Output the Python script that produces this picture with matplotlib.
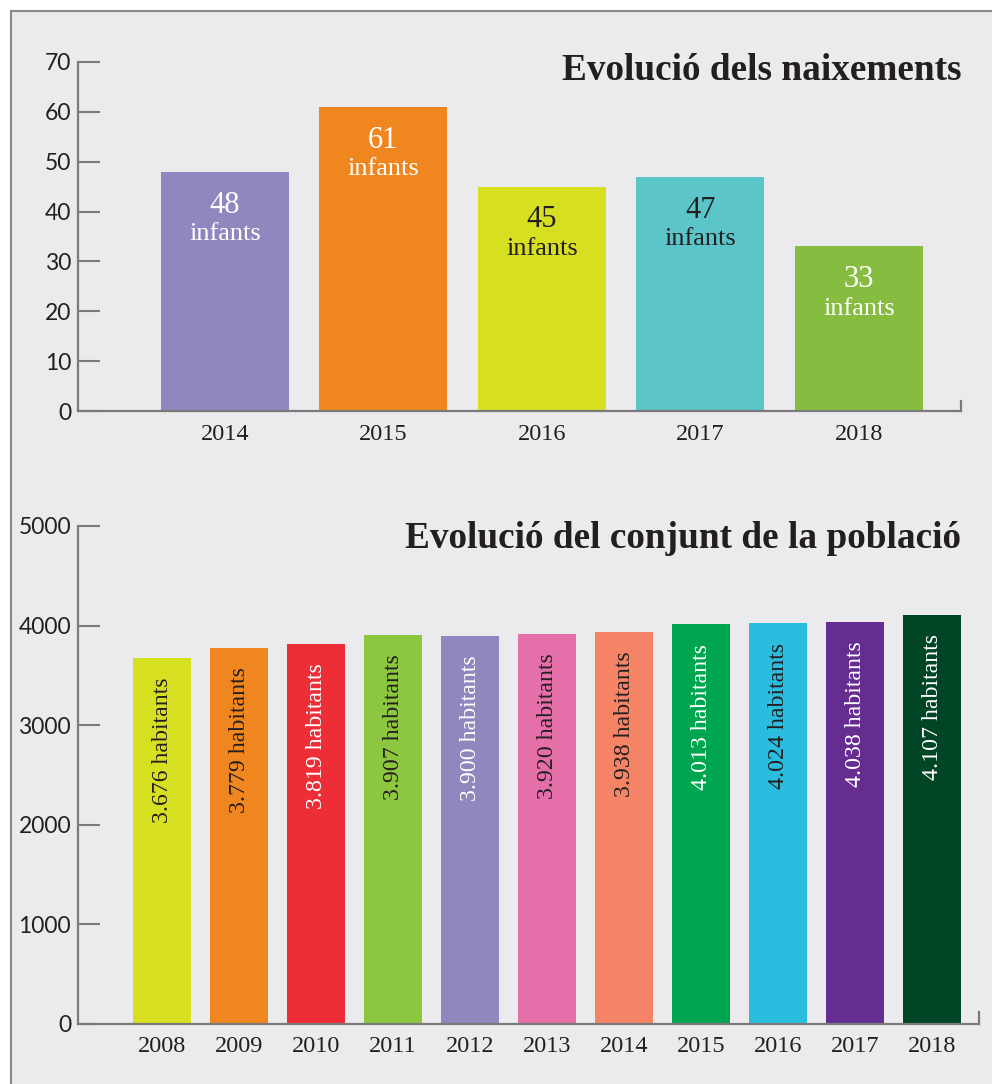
import matplotlib
matplotlib.use("Agg")
import matplotlib.pyplot as plt
from matplotlib.patches import Rectangle


# =========================
# Dades
# =========================
BIRTH_YEARS = ["2014", "2015", "2016", "2017", "2018"]
BIRTHS = [48, 61, 45, 47, 33]
BIRTH_COLORS = ["#8f87be", "#f0861f", "#d7df21", "#5bc5c9", "#86bd40"]
BIRTH_TEXT = ["white", "white", "#231f20", "#231f20", "white"]

POP_YEARS = ["2008", "2009", "2010", "2011", "2012", "2013",
             "2014", "2015", "2016", "2017", "2018"]
POPULATION = [3676, 3779, 3819, 3907, 3900, 3920, 3938, 4013, 4024, 4038, 4107]
POP_COLORS = ["#d7df21", "#f0861f", "#ee2e36", "#8dc63f", "#8f87be", "#e46fa9",
              "#f58466", "#00a54f", "#2bbde0", "#652d90", "#004526"]
POP_TEXT = ["#231f20", "#231f20", "white", "#231f20", "white", "#231f20",
            "#231f20", "white", "#231f20", "white", "white"]

BG = "#ebebee"
DARK = "#231f20"
AXIS_GREY = "#7a7a7a"
SERIF = ["Liberation Serif", "DejaVu Serif"]
SANS = ["Lato", "DejaVu Sans"]

W, H = 992, 1084


def style_axis(ax, yticks, right_tick):
    ax.set_facecolor("none")
    ax.spines["top"].set_visible(False)
    for side in ("left", "bottom", "right"):
        ax.spines[side].set_color(AXIS_GREY)
        ax.spines[side].set_linewidth(1.6)
    ax.spines["right"].set_bounds(0, right_tick)
    ax.set_yticks(yticks)
    ax.tick_params(axis="y", direction="in", length=16, width=1.5,
                   color=AXIS_GREY, pad=5, labelsize=16.5, labelcolor=DARK)
    ax.tick_params(axis="x", length=0, pad=9, labelsize=17.5, labelcolor=DARK)
    for lbl in ax.get_yticklabels():
        lbl.set_family(SANS)
    for lbl in ax.get_xticklabels():
        lbl.set_family(SERIF)


fig = plt.figure(figsize=(W / 100, H / 100), dpi=100, facecolor="white")

# fons gris amb vora
fig.patches.append(Rectangle((11 / W, -0.05), 1.2, 1 - 11 / H + 0.05,
                             transform=fig.transFigure, facecolor=BG,
                             edgecolor="#8a8a8a", linewidth=1.5, zorder=-10))

# =========================
# Naixements
# =========================
ax1 = fig.add_axes([78 / W, 1 - 411 / H, (961 - 78) / W, (411 - 62) / H])
x1 = list(range(len(BIRTH_YEARS)))
ax1.bar(x1, BIRTHS, width=0.808, color=BIRTH_COLORS, zorder=2)
ax1.set_xlim(-0.927, 4.644)
ax1.set_ylim(0, 70)
ax1.set_xticks(x1)
ax1.set_xticklabels(BIRTH_YEARS)
style_axis(ax1, range(0, 71, 10), 2)

for xi, v, tc in zip(x1, BIRTHS, BIRTH_TEXT):
    ax1.annotate(str(v), (xi, v), xytext=(0, -24), textcoords="offset points",
                 ha="center", va="center", fontsize=22, color=tc, family=SERIF)
    ax1.annotate("infants", (xi, v), xytext=(0, -45), textcoords="offset points",
                 ha="center", va="center", fontsize=19, color=tc, family=SERIF)

fig.text(961 / W, 1 - 70 / H, "Evolució dels naixements", ha="right",
         va="center", fontsize=26.8, fontweight="bold", color=DARK, family=SERIF)

# =========================
# Població
# =========================
ax2 = fig.add_axes([78 / W, 1 - 1024 / H, (979 - 78) / W, (1024 - 526) / H])
x2 = list(range(len(POP_YEARS)))
ax2.bar(x2, POPULATION, width=0.753, color=POP_COLORS, zorder=2)
ax2.set_xlim(-1.091, 10.61)
ax2.set_ylim(0, 5000)
ax2.set_xticks(x2)
ax2.set_xticklabels(POP_YEARS)
style_axis(ax2, range(0, 5001, 1000), 120)

for xi, v, tc in zip(x2, POPULATION, POP_TEXT):
    label = f"{v:,}".replace(",", ".") + " habitants"
    ax2.annotate(label, (xi, v), xytext=(0, -14), textcoords="offset points",
                 ha="center", va="top", rotation=90, fontsize=17.2,
                 color=tc, family=SERIF)

fig.text(961 / W, 1 - 538 / H, "Evolució del conjunt de la població",
         ha="right", va="center", fontsize=26.8, fontweight="bold",
         color=DARK, family=SERIF)

fig.savefig("out.png", dpi=100, facecolor="white")
